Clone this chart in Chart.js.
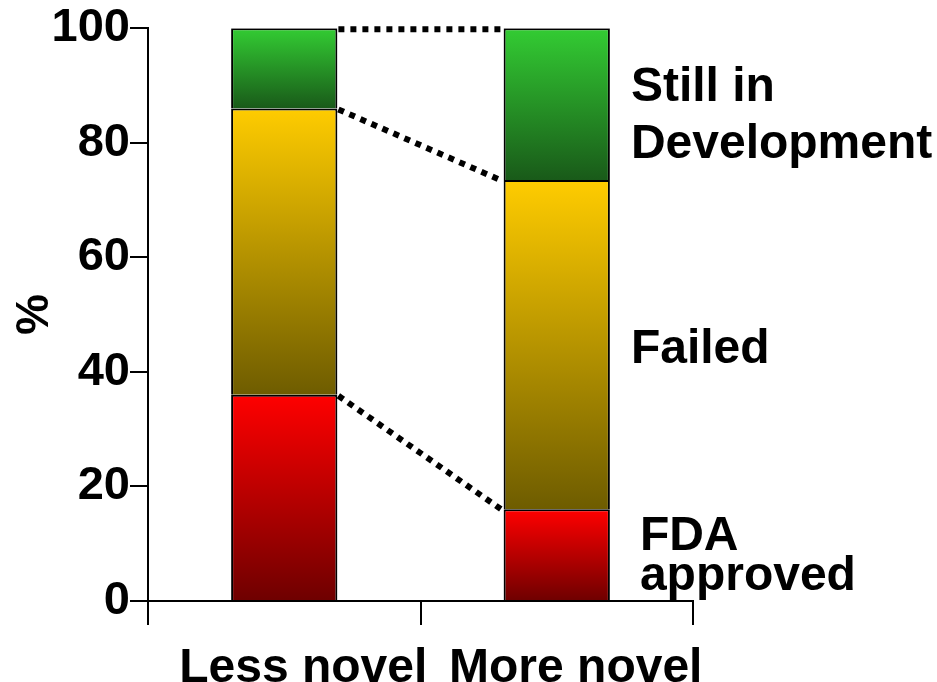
<!DOCTYPE html>
<html>
<head>
<meta charset="utf-8">
<script src="https://cdn.jsdelivr.net/npm/chart.js@4.4.1/dist/chart.umd.min.js"></script>
<style>
  html, body { margin: 0; padding: 0; background: #fff; }
  #wrap { width: 937px; height: 682px; }
</style>
</head>
<body>
<div id="wrap"><canvas id="barChart" width="937" height="682"></canvas></div>
<script>
// chart data
const categories = ['Less novel', 'More novel'];
const fdaApproved = [36, 16];
const failed = [50, 57.5];
const stillInDev = [14, 26.5];
const yTicks = [0, 20, 40, 60, 80, 100];
const segmentLabels = [['FDA', 'approved'], ['Failed'], ['Still in', 'Development']];

const FONT = '"Liberation Sans", Arial, Helvetica, sans-serif';

// gradient stops per series (top colour, bottom colour)
const gradients = [
    ['#ff0000', '#6e0000'],
    ['#ffcc00', '#6e5c00'],
    ['#33cc33', '#195a19']
];

// label text style next to the right bar
const labelStyle = [
    { dx: 30, dy: 2, lineHeight: 40 },
    { dx: 21, dy: 5, lineHeight: 57 },
    { dx: 21, dy: 12, lineHeight: 57 }
];

function segmentFill(context) {
    const chart = context.chart;
    const ds = context.datasetIndex;
    const i = context.dataIndex;
    const colors = gradients[ds];
    if (!chart.chartArea) return colors[0];
    const datasets = chart.data.datasets;
    let start = 0;
    for (let k = 0; k < ds; k++) start += datasets[k].data[i];
    const end = start + datasets[ds].data[i];
    const y = chart.scales.y;
    const top = y.getPixelForValue(end);
    const bottom = y.getPixelForValue(start);
    if (!isFinite(top) || !isFinite(bottom) || top === bottom) return colors[0];
    const g = chart.ctx.createLinearGradient(0, top, 0, bottom);
    g.addColorStop(0, colors[0]);
    g.addColorStop(1, colors[1]);
    return g;
}

// dotted connectors between the bars and labels on the right
const extrasPlugin = {
    id: 'extras',
    afterDatasetsDraw(chart) {
        const ctx = chart.ctx;
        ctx.save();
        chart.data.datasets.forEach(function(dataset, ds) {
            const meta = chart.getDatasetMeta(ds);
            const a = meta.data[0];
            const b = meta.data[1];
            ctx.beginPath();
            ctx.setLineDash([6, 6]);
            ctx.lineWidth = 6;
            ctx.strokeStyle = '#000';
            ctx.moveTo(a.x + a.width / 2 + 1, a.y + 1);
            ctx.lineTo(b.x - b.width / 2 - 1, b.y + 1);
            ctx.stroke();
            ctx.setLineDash([]);

            const lines = segmentLabels[ds];
            const st = labelStyle[ds];
            const cy = (b.y + b.base) / 2 + st.dy;
            const x = b.x + b.width / 2 + st.dx;
            ctx.fillStyle = '#000';
            ctx.font = 'bold 48px ' + FONT;
            ctx.textAlign = 'left';
            ctx.textBaseline = 'middle';
            lines.forEach(function(line, n) {
                const ly = cy + (n - (lines.length - 1) / 2) * st.lineHeight;
                ctx.fillText(line, x, ly);
            });
        });
        ctx.restore();
    }
};

const ctx = document.getElementById('barChart').getContext('2d');

const data = {
    labels: categories,
    datasets: [{
        label: 'FDA approved',
        data: fdaApproved
    }, {
        label: 'Failed',
        data: failed
    }, {
        label: 'Still in Development',
        data: stillInDev
    }].map(function(d) {
        return Object.assign(d, {
            backgroundColor: segmentFill,
            borderColor: '#000',
            borderWidth: { top: 2, bottom: 0, left: 2, right: 2 },
            borderSkipped: false,
            barPercentage: 0.39,
            categoryPercentage: 1
        });
    })
};

var myChart = new Chart(ctx, {
    type: 'bar',
    data: data,
    plugins: [extrasPlugin],
    options: {
        responsive: false,
        animation: false,
        layout: { padding: { top: 8, right: 244, left: 0, bottom: 0 } },
        plugins: {
            legend: { display: false },
            tooltip: { enabled: false }
        },
        scales: {
            x: {
                stacked: true,
                offset: true,
                afterFit: function(scale) { scale.height = 81; },
                grid: {
                    offset: true,
                    drawOnChartArea: false,
                    drawTicks: true,
                    tickLength: 24,
                    color: '#000',
                    lineWidth: 2
                },
                border: { display: true, color: '#000', width: 2 },
                ticks: {
                    color: '#000',
                    padding: 15,
                    labelOffset: 19,
                    font: { family: FONT, size: 48, weight: 'bold' }
                }
            },
            y: {
                stacked: true,
                min: 0,
                max: 100,
                afterFit: function(scale) { scale.width = 148; },
                afterBuildTicks: function(scale) {
                    scale.ticks = yTicks.map(function(v) { return { value: v }; });
                },
                grid: {
                    drawOnChartArea: false,
                    drawTicks: true,
                    tickLength: 18,
                    color: '#000',
                    lineWidth: 2
                },
                border: { display: true, color: '#000', width: 2 },
                ticks: {
                    color: '#000',
                    padding: 0,
                    font: { family: FONT, size: 47, weight: 'bold' }
                },
                title: {
                    display: true,
                    text: '%',
                    color: '#000',
                    padding: { top: 8, bottom: 0 },
                    font: { family: FONT, size: 46, weight: 'bold' }
                }
            }
        }
    }
});
</script>
</body>
</html>
